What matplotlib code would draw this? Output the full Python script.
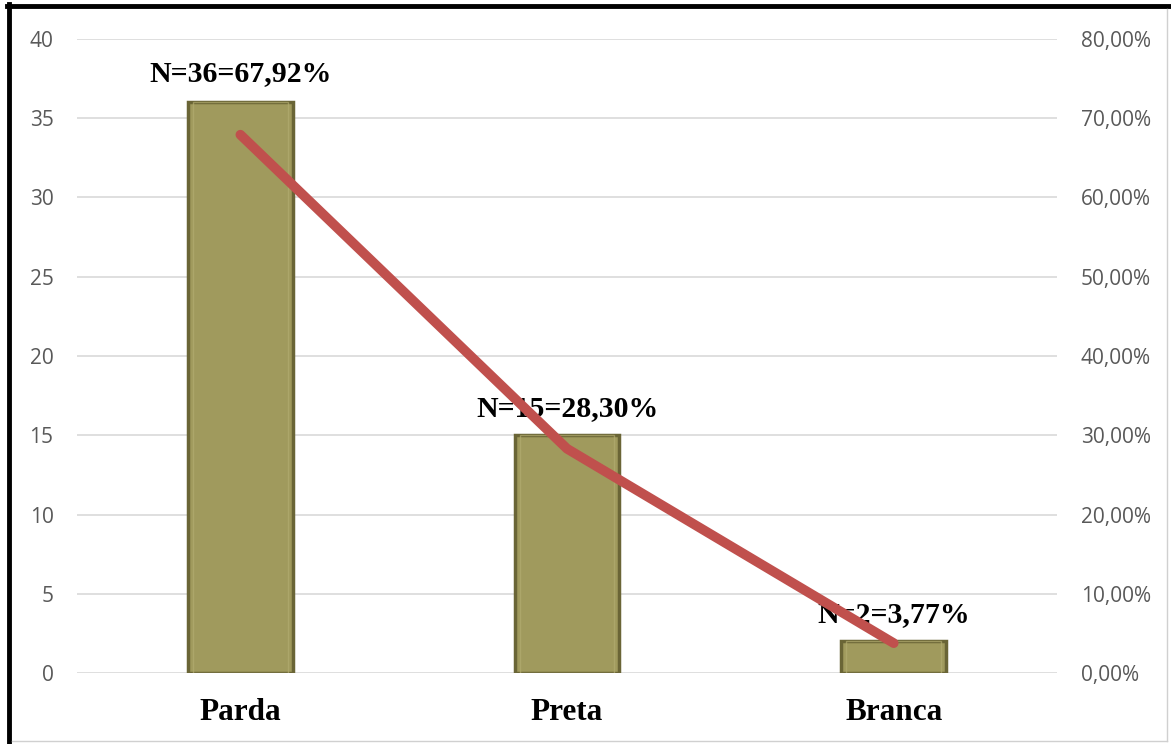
import numpy as np
import matplotlib.pyplot as plt
import matplotlib.ticker as ticker
from matplotlib.lines import Line2D

categories = ["Parda", "Preta", "Branca"]
counts = [36, 15, 2]
percents = [67.92, 28.30, 3.77]
labels = ["N=36=67,92%", "N=15=28,30%", "N=2=3,77%"]
label_y = [37.8, 16.7, 3.7]

fig = plt.figure(figsize=(11.71, 7.44), dpi=100)
ax = fig.add_axes([0.0658, 0.0954, 0.8369, 0.8522])
x = np.arange(len(categories))

# bars, rough bevel look
ax.bar(x, counts, width=0.32, color='#a09a5d', edgecolor='#6a6536', linewidth=2.5, zorder=2)
ax.bar(x, counts, width=0.29, color='none', edgecolor='#b2ac70', linewidth=1.0, alpha=0.7, zorder=2)

ax.set_xlim(-0.5, 2.5)
ax.set_ylim(0, 40)
ax.yaxis.set_major_locator(ticker.MultipleLocator(5))
ax.grid(axis='y', color='#d9d9d9', linewidth=1.2, zorder=0)
ax.set_axisbelow(True)
for s in ax.spines.values():
    s.set_visible(False)
ax.tick_params(axis='both', length=0)
ax.tick_params(axis='y', labelsize=15, labelcolor='#595959', pad=17)
for t in ax.get_yticklabels():
    t.set_family('Open Sans')
ax.set_xticks(x)
ax.set_xticklabels(categories, family='Liberation Serif', fontweight='bold', fontsize=22.5)
ax.tick_params(axis='x', pad=18)

for i in range(len(labels)):
    ax.text(x[i], label_y[i], labels[i], ha='center', va='center', family='Liberation Serif',
            fontweight='bold', fontsize=21.5, zorder=5)

ax2 = ax.twinx()
ax2.plot(x, percents, color='#c0504d', linewidth=7, solid_capstyle='round', zorder=3)
ax2.set_ylim(0, 80)
ax2.yaxis.set_major_locator(ticker.MultipleLocator(10))
ax2.yaxis.set_major_formatter(ticker.FuncFormatter(lambda v, p: f"{v:.2f}%".replace('.', ',')))
for s in ax2.spines.values():
    s.set_visible(False)
ax2.tick_params(axis='y', length=0, labelsize=15, labelcolor='#595959', pad=17)
for t in ax2.get_yticklabels():
    t.set_family('Open Sans')

# page frame
fig.add_artist(Line2D([0.0075, 0.0075], [0, 0.995], color='black', linewidth=3.5, transform=fig.transFigure))
fig.add_artist(Line2D([0.006, 1.0], [0.992, 0.992], color='black', linewidth=3.5, transform=fig.transFigure))
fig.add_artist(Line2D([0.0105, 0.997], [0.004, 0.004], color='#d0d0d0', linewidth=1, transform=fig.transFigure))
fig.add_artist(Line2D([0.997, 0.997], [0.004, 0.988], color='#d0d0d0', linewidth=1, transform=fig.transFigure))

fig.savefig('out.png', dpi=100)
